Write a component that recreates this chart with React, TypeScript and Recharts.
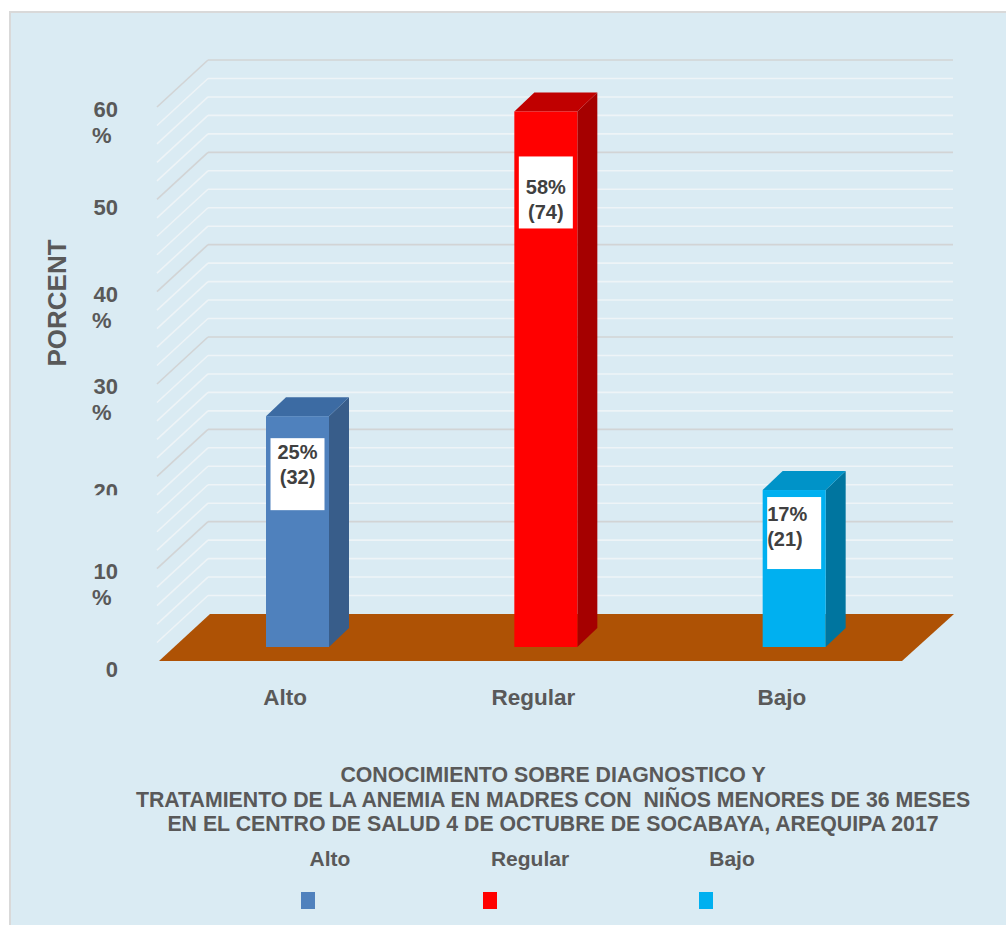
import React from 'react';
import { BarChart, Bar, XAxis, YAxis, CartesianGrid, Cell, LabelList } from 'recharts';

const CATEGORIES = ['Alto', 'Regular', 'Bajo'];
const PERCENTS = [25, 58, 17];
const COUNTS = [32, 74, 21];
const GRID_VALUES = [0, 2, 4, 6, 8, 10, 12, 14, 16, 18, 20, 22, 24, 26, 28, 30, 32, 34, 36, 38, 40, 42, 44, 46, 48, 50, 52, 54, 56, 58, 60];
const Y_MAX = 60;
const TICK_LABELS: Record<number, string[]> = {
  60: ['60', '%'],
  50: ['50'],
  40: ['40', '%'],
  30: ['30', '%'],
  20: ['20'],
  10: ['10', '%'],
  0: ['0'],
};
const TITLE_LINES = [
  'CONOCIMIENTO SOBRE DIAGNOSTICO Y',
  'TRATAMIENTO DE LA ANEMIA EN MADRES CON  NIÑOS MENORES DE 36 MESES',
  'EN EL CENTRO DE SALUD 4 DE OCTUBRE DE SOCABAYA, AREQUIPA 2017',
];

const FRONT = ['#4F81BD', '#FF0000', '#00B0F0'];
const SIDE = ['#385D8A', '#A50000', '#00759F'];
const TOP = ['#3C6BA3', '#C00000', '#0093C8'];
const FLOOR = '#AE5205';
const TEXT = '#595959';
const FONT = '"Liberation Sans", Arial, sans-serif';

// oblique depth offsets, relative to the plane the bars stand in
const WALL_FRONT = { dx: -16, dy: 14 };
const WALL_BACK = { dx: 35, dy: -33 };
const BAR_DEPTH = { dx: 20, dy: -19 };

// label box placement under the top of each bar
const BOX_DY = [22, 45, 7];
const TEXT_DY = [43, 83, 31];
const LEGEND_TEXT_X = [330, 530, 732];
const LEGEND_BOX_X = [301, 483, 699];

const data = CATEGORIES.map((name, i) => ({ name, value: PERCENTS[i], count: COUNTS[i] }));

function gridCoords({ yAxis, offset }: any) {
  return GRID_VALUES.map(v => {
    const s = yAxis && yAxis.scale;
    let c: any;
    if (typeof s === 'function') c = s(v);
    else if (s && typeof s.map === 'function') c = s.map(v);
    if (typeof c === 'number' && isFinite(c)) return c;
    return offset.top + offset.height * (1 - v / Y_MAX);
  });
}

function gridLine(props: any) {
  const { x1, x2, y1, index, y, height } = props;
  const value =
    typeof y === 'number' && typeof height === 'number' && height > 0
      ? Math.round(((y + height - y1) / height) * Y_MAX)
      : GRID_VALUES[index];
  const major = value % 10 === 0;
  const fx = x1 + WALL_FRONT.dx;
  const fy = y1 + WALL_FRONT.dy;
  const bx = x1 + WALL_BACK.dx;
  const by = y1 + WALL_BACK.dy;
  const stroke = major ? '#D2D4D5' : '#EEF4F7';
  const lines = TICK_LABELS[value];
  return (
    <g key={`grid-${index}`}>
      {value === 0 ? (
        <polygon
          points={`${fx + 2},${fy} ${bx + 2},${by} ${x2 + WALL_BACK.dx + 1},${by} ${x2 + WALL_FRONT.dx},${fy}`}
          fill={FLOOR}
        />
      ) : (
        <>
          <line x1={fx} y1={fy} x2={bx} y2={by} stroke={stroke} strokeWidth={1.6} />
          <line x1={bx} y1={by} x2={x2 + WALL_BACK.dx} y2={by} stroke={stroke} strokeWidth={1.6} />
        </>
      )}
      {lines && (
        <g fontFamily={FONT} fontWeight="bold" fontSize={22} fill={TEXT}>
          {value === 20 ? (
            <>
              <clipPath id="clip-20">
                <rect x={x1 - 100} y={fy - 20} width={60} height={39} />
              </clipPath>
              <text x={x1 - 55} y={fy + 23} textAnchor="end" clipPath="url(#clip-20)">{lines[0]}</text>
            </>
          ) : lines.length === 2 ? (
            <>
              <text x={x1 - 55} y={fy + 10} textAnchor="end">{lines[0]}</text>
              <text x={x1 - 81} y={fy + 36}>{lines[1]}</text>
            </>
          ) : (
            <text x={x1 - 55} y={fy + 16} textAnchor="end">{lines[0]}</text>
          )}
        </g>
      )}
    </g>
  );
}

function Bar3D(props: any) {
  const { x, y, width, height, payload } = props;
  const i = CATEGORIES.indexOf(payload.name);
  const dx = BAR_DEPTH.dx;
  const dy = BAR_DEPTH.dy;
  return (
    <g>
      <polygon
        points={`${x + width},${y} ${x + width + dx},${y + dy} ${x + width + dx},${y + height + dy} ${x + width},${y + height}`}
        fill={SIDE[i]}
      />
      <polygon
        points={`${x},${y} ${x + dx},${y + dy} ${x + width + dx},${y + dy} ${x + width},${y}`}
        fill={TOP[i]}
      />
      <rect x={x} y={y} width={width} height={height} fill={FRONT[i]} />
    </g>
  );
}

function renderLabel(props: any) {
  const { x, y, width, index } = props;
  const cx = x + width / 2;
  const left = index === 2;
  const tx = left ? cx - 27 : cx;
  return (
    <g fontFamily={FONT} fontWeight="bold" fontSize={20} fill="#404040">
      <rect x={cx - 27} y={y + BOX_DY[index]} width={54} height={72} fill="#FFFFFF" />
      <text x={tx} y={y + TEXT_DY[index]} textAnchor={left ? 'start' : 'middle'}>
        {PERCENTS[index]}%
      </text>
      <text x={tx} y={y + TEXT_DY[index] + 25} textAnchor={left ? 'start' : 'middle'}>
        ({COUNTS[index]})
      </text>
    </g>
  );
}

function CategoryTick(props: any) {
  const { x, y, payload } = props;
  return (
    <text x={x - 12} y={y + 50} textAnchor="middle" fontFamily={FONT} fontWeight="bold" fontSize={22.5} fill={TEXT}>
      {payload.value}
    </text>
  );
}

export default function App() {
  return (
    <div style={{ position: 'absolute', left: 0, top: 0, width: 1006, height: 925, overflow: 'hidden', fontFamily: FONT }}>
      <div
        style={{
          position: 'absolute',
          left: 9,
          top: 11,
          width: 1010,
          height: 930,
          background: '#DAEBF3',
          border: '2px solid #D9D9D9',
        }}
      />
      <div style={{ position: 'absolute', left: 0, top: 0 }}>
        <BarChart width={1006} height={925} data={data} margin={{ top: 93, right: 88, bottom: 218, left: 173 }}>
          <CartesianGrid
            horizontalCoordinatesGenerator={gridCoords}
            vertical={false}
            horizontal={gridLine}
          />
          <YAxis hide domain={[0, Y_MAX]} ticks={[0, 10, 20, 30, 40, 50, 60]} />
          <XAxis dataKey="name" axisLine={false} tickLine={false} height={60} tick={<CategoryTick />} interval={0} />
          <Bar dataKey="value" barSize={63} shape={<Bar3D />} isAnimationActive={false}>
            {data.map((d, i) => (
              <Cell key={d.name} fill={FRONT[i]} />
            ))}
            <LabelList dataKey="value" content={renderLabel} />
          </Bar>
        </BarChart>
      </div>
      <div
        style={{
          position: 'absolute',
          left: 57,
          top: 303,
          transform: 'translate(-50%, -50%) rotate(-90deg)',
          fontSize: 26,
          fontWeight: 'bold',
          color: TEXT,
          whiteSpace: 'nowrap',
        }}
      >
        PORCENT
      </div>
      <div
        style={{
          position: 'absolute',
          left: 553,
          top: 763,
          transform: 'translateX(-50%)',
          textAlign: 'center',
          fontSize: 21.3,
          lineHeight: '24.5px',
          fontWeight: 'bold',
          color: TEXT,
          whiteSpace: 'pre',
        }}
      >
        {TITLE_LINES.join('\n')}
      </div>
      {CATEGORIES.map((c, i) => (
        <React.Fragment key={c}>
          <div
            style={{
              position: 'absolute',
              left: LEGEND_TEXT_X[i],
              top: 847,
              transform: 'translateX(-50%)',
              fontSize: 21,
              fontWeight: 'bold',
              color: TEXT,
            }}
          >
            {c}
          </div>
          <div
            style={{
              position: 'absolute',
              left: LEGEND_BOX_X[i],
              top: 892,
              width: 14,
              height: 17,
              background: FRONT[i],
            }}
          />
        </React.Fragment>
      ))}
    </div>
  );
}
